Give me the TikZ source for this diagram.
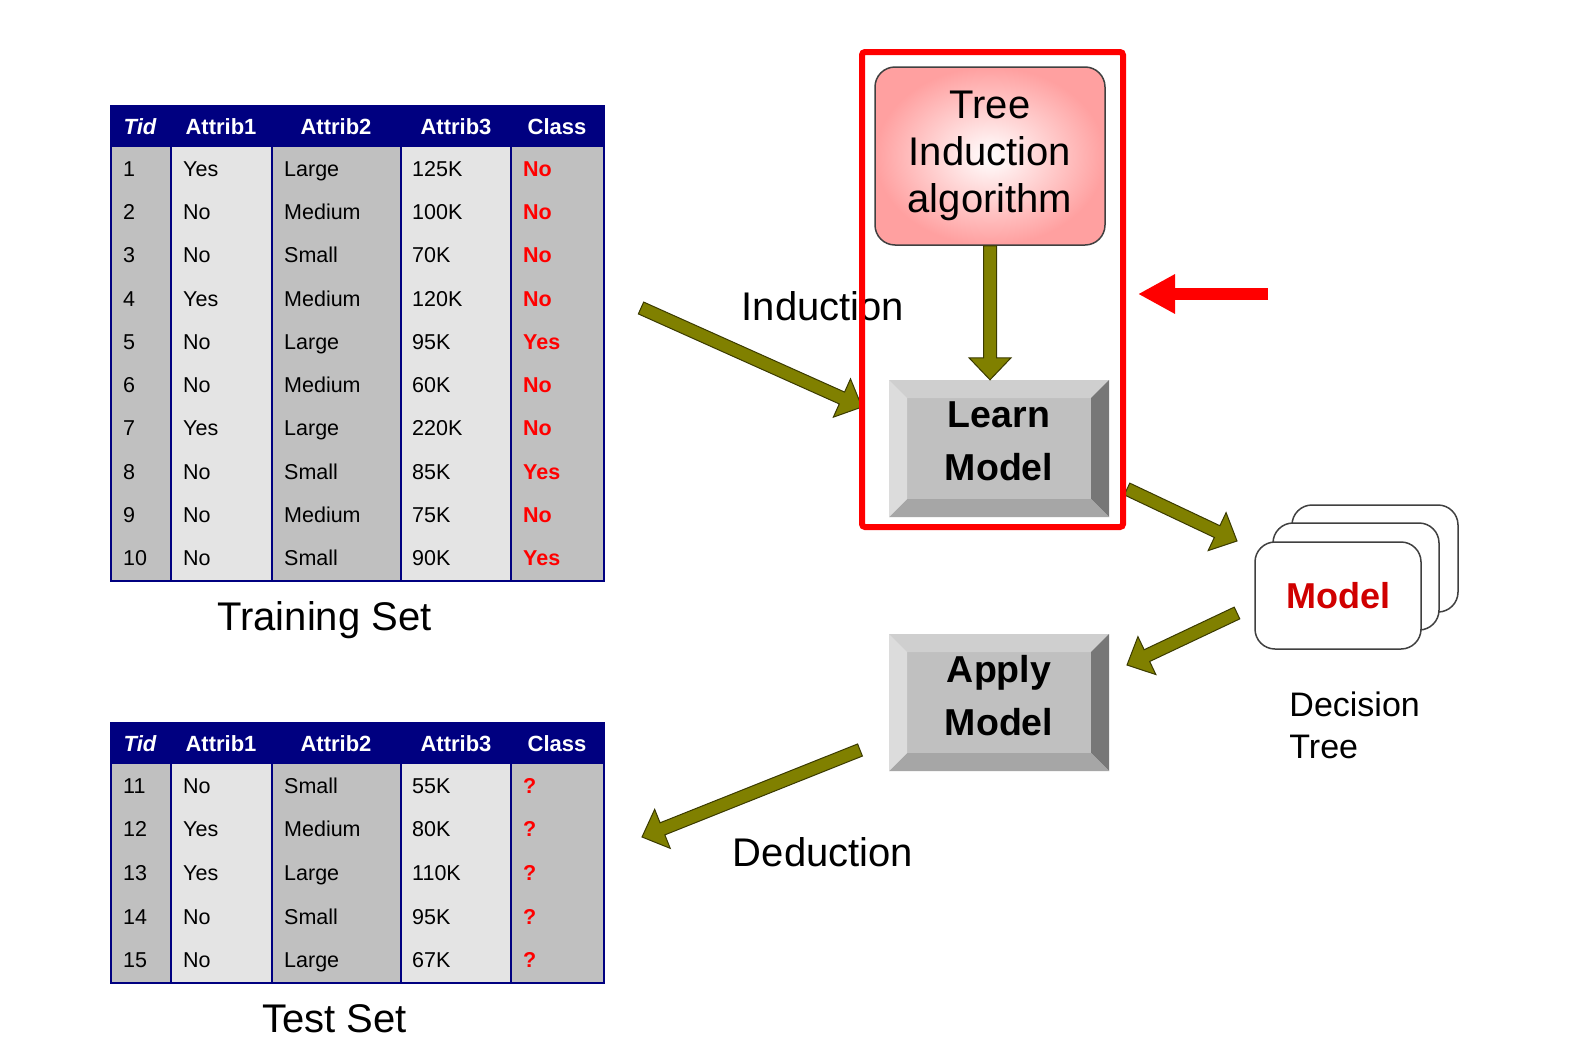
\documentclass[tikz,border=0pt]{standalone}
\usepackage{fontspec}
\setmainfont{Liberation Sans}
\usetikzlibrary{arrows.meta,positioning}
\definecolor{DtNavy}{HTML}{000080}
\definecolor{DtGrey}{HTML}{C0C0C0}
\definecolor{DtLight}{HTML}{E4E4E4}
\definecolor{DtOlive}{HTML}{808000}
\definecolor{DtOliveEdge}{HTML}{3A3A00}
\definecolor{DtRed}{HTML}{FF0000}
\definecolor{DtModel}{HTML}{D00000}
\definecolor{DtPink}{HTML}{FFA0A0}
\definecolor{DtEdge}{HTML}{404040}
\definecolor{DtBevTop}{HTML}{CFCFCF}
\definecolor{DtBevLeft}{HTML}{DCDCDC}
\definecolor{DtBevRight}{HTML}{777777}
\definecolor{DtBevBottom}{HTML}{A6A6A6}
\newcommand\dtsize[2]{\fontsize{#1}{#2}\selectfont}
% fat outlined arrow between two named points
\newcommand\dtfatarrow[3][dtfat]{%
  \pgfpointdiff{\pgfpointanchor{#2}{center}}{\pgfpointanchor{#3}{center}}%
  \pgfgetlastxy\dtdx\dtdy
  \pgfmathsetmacro\dtang{atan2(\dtdy,\dtdx)}%
  \pgfmathsetmacro\dtlen{veclen(\dtdx,\dtdy)}%
  \path[#1,shift={(#2)},rotate=\dtang] (0pt,-6.5pt) -- (\dtlen pt-22pt,-6.5pt)
    -- (\dtlen pt-22pt,-21pt) -- (\dtlen pt,0pt) -- (\dtlen pt-22pt,21pt)
    -- (\dtlen pt-22pt,6.5pt) -- (0pt,6.5pt) -- cycle;}
\tikzset{
  dtcell/.style={anchor=base west,inner sep=0pt,font=\dtsize{21.5}{26}},
  dtclass/.style={dtcell,text=DtRed,font=\dtsize{21.5}{26}\bfseries},
  dthead/.style={anchor=base,inner sep=0pt,text=white,font=\dtsize{22}{26}\bfseries},
  dtframe/.style={draw=DtNavy,line width=2pt,anchor=north west,inner sep=0pt},
  dtlabel/.style={inner sep=0pt,font=\dtsize{40}{47}},
  dtalgo/.style={
    draw=DtEdge,
    line width=1.5pt,
    rounded corners=20pt,
    inner color=white,
    outer color=DtPink,
    minimum width=230pt,
    minimum height=178pt,
    align=center,
    font=\dtsize{40}{47}
  },
  dtbevel/.style={path picture={
    \path (path picture bounding box.north west) coordinate (bnw)
          (path picture bounding box.north east) coordinate (bne)
          (path picture bounding box.south east) coordinate (bse)
          (path picture bounding box.south west) coordinate (bsw);
    \fill[DtBevTop] (bnw) -- (bne) -- ([shift={(-18pt,-18pt)}]bne) -- ([shift={(18pt,-18pt)}]bnw) -- cycle;
    \fill[DtBevRight] (bne) -- (bse) -- ([shift={(-18pt,18pt)}]bse) -- ([shift={(-18pt,-18pt)}]bne) -- cycle;
    \fill[DtBevBottom] (bse) -- (bsw) -- ([shift={(18pt,18pt)}]bsw) -- ([shift={(-18pt,18pt)}]bse) -- cycle;
    \fill[DtBevLeft] (bsw) -- (bnw) -- ([shift={(18pt,-18pt)}]bnw) -- ([shift={(18pt,18pt)}]bsw) -- cycle;
  }},
  dtbutton/.style={
    dtbevel,
    fill=DtGrey,
    minimum width=220pt,
    minimum height=137pt,
    inner sep=0pt,
    align=center,
    text depth=14pt,
    font=\dtsize{37.5}{53}\bfseries
  },
  dtcard/.style={draw=DtEdge,line width=1.5pt,fill=white,rounded corners=20pt,minimum width=166pt,minimum height=107pt},
  dtfat/.style={fill=DtOlive,draw=DtOliveEdge,line width=1pt},
  dtfocus/.style={draw=DtRed,line width=6pt,rounded corners=3pt,inner sep=0pt},
  dtpointer/.style={draw=DtRed,line width=12pt,-{Triangle[length=37pt,width=37pt]}}
}
\begin{document}
\begin{tikzpicture}[x=1pt,y=-1pt]
  \fill[white] (0,0) rectangle (1594,1063);
  \useasboundingbox (0,0) rectangle (1594,1063);

  % training set
  \foreach \xa/\xb/\cc in {110/171/DtGrey,171/272/DtLight,272/401/DtGrey,401/511/DtLight,511/603/DtGrey}
    \fill[\cc] (\xa,147) rectangle (\xb,580);
  \fill[DtNavy] (110,105) rectangle (603,147);
  \foreach \xa in {171,272,401,511}
    \draw[DtNavy,line width=1.5pt] (\xa,147) -- (\xa,580);
  \node[dtframe,minimum width=493pt,minimum height=475pt] (train) at (110,105) {};
  \foreach \cx/\hd in {140/\itshape Tid,221/Attrib1,336/Attrib2,456/Attrib3,557/Class}
    \node[dthead] (trh\cx) at (\cx,134) {\hd};
  \foreach \tid/\va/\vb/\vc/\vd [count=\r] in {1/Yes/Large/125K/No,2/No/Medium/100K/No,
      3/No/Small/70K/No,4/Yes/Medium/120K/No,5/No/Large/95K/Yes,6/No/Medium/60K/No,
      7/Yes/Large/220K/No,8/No/Small/85K/Yes,9/No/Medium/75K/No,10/No/Small/90K/Yes} {
    \node[dtcell] (tr\r a) at (123,{147+43.3*(\r-0.5)+7.5}) {\tid};
    \node[dtcell] (tr\r b) at (183,{147+43.3*(\r-0.5)+7.5}) {\va};
    \node[dtcell] (tr\r c) at (284,{147+43.3*(\r-0.5)+7.5}) {\vb};
    \node[dtcell] (tr\r d) at (412,{147+43.3*(\r-0.5)+7.5}) {\vc};
    \node[dtclass] (tr\r e) at (523,{147+43.3*(\r-0.5)+7.5}) {\vd};
  }
  \node[dtlabel,below=19pt of train,xshift=-33pt] (trainlbl) {Training Set};

  % test set
  \foreach \xa/\xb/\cc in {110/171/DtGrey,171/272/DtLight,272/401/DtGrey,401/511/DtLight,511/603/DtGrey}
    \fill[\cc] (\xa,764) rectangle (\xb,982);
  \fill[DtNavy] (110,722) rectangle (603,764);
  \foreach \xa in {171,272,401,511}
    \draw[DtNavy,line width=1.5pt] (\xa,764) -- (\xa,982);
  \node[dtframe,minimum width=493pt,minimum height=260pt] (test) at (110,722) {};
  \foreach \cx/\hd in {140/\itshape Tid,221/Attrib1,336/Attrib2,456/Attrib3,557/Class}
    \node[dthead] (tsh\cx) at (\cx,751) {\hd};
  \foreach \tid/\va/\vb/\vc [count=\r] in {11/No/Small/55K,12/Yes/Medium/80K,
      13/Yes/Large/110K,14/No/Small/95K,15/No/Large/67K} {
    \node[dtcell] (ts\r a) at (123,{764+43.6*(\r-0.5)+7.5}) {\tid};
    \node[dtcell] (ts\r b) at (183,{764+43.6*(\r-0.5)+7.5}) {\va};
    \node[dtcell] (ts\r c) at (284,{764+43.6*(\r-0.5)+7.5}) {\vb};
    \node[dtcell] (ts\r d) at (412,{764+43.6*(\r-0.5)+7.5}) {\vc};
    \node[dtclass] (ts\r e) at (523,{764+43.6*(\r-0.5)+7.5}) {?};
  }
  \node[dtlabel,below=20pt of test,xshift=-23pt] (testlbl) {Test Set};

  \node[dtlabel] (indlbl) at (823,306) {Induction};
  \node[dtlabel] (dedlbl) at (823,852) {Deduction};

  % learn / apply
  \node[dtalgo] (algo) at (990,156) {Tree\\Induction\\algorithm};
  \node[dtbutton] (learn) at (999,448.5) {Learn\\Model};
  \node[dtbutton] (apply) at (999,702.5) {Apply\\Model};

  \node[dtcard] (card3) at (1375,558.5) {};
  \node[dtcard] (card2) at (1356,576.5) {};
  \node[dtcard,text=DtModel,font=\dtsize{36}{42}\bfseries] (card1) at (1338,595.5) {Model};
  \node[dtlabel,font=\dtsize{34}{42},align=left,
        below right=42pt and 35pt of card1.south west] (treelbl) {Decision\\Tree};

  \coordinate (indA) at (641,308);
  \coordinate (indB) at (862,407);
  \coordinate (algoA) at (algo.south);
  \coordinate (algoB) at (algo.south |- learn.north);
  \coordinate (lrnA) at (1127,489);
  \coordinate (lrnB) at (1237,541);
  \coordinate (mdlA) at (1237,613);
  \coordinate (mdlB) at (1127,665);
  \coordinate (dedA) at (860,750);
  \coordinate (dedB) at (642,837);
  \dtfatarrow{indA}{indB}
  \dtfatarrow{algoA}{algoB}
  \dtfatarrow{lrnA}{lrnB}
  \dtfatarrow{mdlA}{mdlB}
  \dtfatarrow{dedA}{dedB}

  \node[dtfocus,minimum width=261pt,minimum height=475pt] (focus) at (992.5,289.5) {};
  \coordinate (ptrA) at (1268,294);
  \coordinate (ptrB) at ([xshift=12pt]focus.east |- ptrA);
  \draw[dtpointer] (ptrA) -- (ptrB);
\end{tikzpicture}
\end{document}
